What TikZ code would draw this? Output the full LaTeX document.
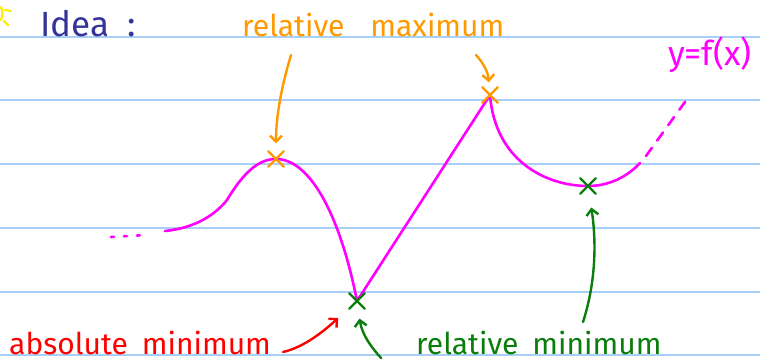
\documentclass[tikz,border=0pt]{standalone}
\usepackage{fontspec}
\setmainfont{Fira Sans}
\usetikzlibrary{arrows.meta,shapes.misc}
\definecolor{ruleblue}{HTML}{A8CFF6}
\definecolor{ideablue}{HTML}{333399}
\definecolor{hmag}{HTML}{FF00FF}
\definecolor{horange}{HTML}{FF9900}
\definecolor{hgreen}{HTML}{0A7D0A}
\definecolor{hred}{HTML}{FF0000}
\definecolor{hsun}{HTML}{FFEE00}
\begin{document}
\begin{tikzpicture}[x=1pt,y=-1pt,
  ruleline/.style={ruleblue,line width=2pt},
  crv/.style={hmag,line width=2.6pt,line cap=round,line join=round},
  xmark/.style={cross out,draw,line width=2.4pt,minimum size=13pt,inner sep=0pt,line cap=round},
  arr/.style={line width=2.4pt,line cap=round,line join=round,-{Straight Barb[length=6pt,width=12pt]}},
  lbl/.style={anchor=base west,inner sep=0pt,font=\fontsize{30}{32}\selectfont}]
\useasboundingbox (0,0) rectangle (760,363);
% ruled lines
\foreach \yy in {37,100,164,228,292,355}
  \draw[ruleline] (0,\yy) -- (760,\yy);
% sun
\draw[hsun,line width=2.2pt,line cap=round] (1,7) .. controls (3,11) and (3,16) .. (1,20);
\draw[hsun,line width=2.2pt,line cap=round] (5,10) -- (11,11);
\draw[hsun,line width=2.2pt,line cap=round] (4,21) -- (8,25);
% title
\node[lbl,ideablue,font=\fontsize{35}{38}\selectfont] (idea) at (40,37) {Idea\hspace{18pt}:};
% labels
\node[lbl,horange] (rmax) at (242,37) {relative\hspace{26pt}maximum};
\node[lbl,hred] (amin) at (9,354) {absolute\hspace{14pt}minimum};
\node[lbl,hgreen] (rmin) at (416,354) {relative\hspace{14pt}minimum};
\node[lbl,hmag,font=\fontsize{34}{36}\selectfont] (fx) at (668,66) {y=f(x)};
% curve
\draw[crv,dash pattern=on 3pt off 10pt] (111,237) -- (146,235);
\draw[crv] (165,231) .. controls (195,228) and (215,215) .. (227,200)
   .. controls (245,170) and (260,159) .. (276,159)
   .. controls (310,159) and (340,215) .. (357,301)
   -- (490,95)
   .. controls (495,160) and (545,186) .. (588,186)
   .. controls (610,186) and (628,176) .. (640,163);
\draw[crv,dash pattern=on 10pt off 9pt] (646,156) -- (690,95);
% markers
\node[xmark,horange] (maxA) at (276,159) {};
\node[xmark,horange] (maxB) at (490,95) {};
\node[xmark,hgreen] (minA) at (357,301) {};
\node[xmark,hgreen] (minB) at (588,186) {};
% arrow starts
\coordinate (o1) at (291,55);
\coordinate (o2) at (476,55);
\coordinate (r1) at (283,352);
\coordinate (g1) at (381,358);
\coordinate (g2) at (583,322);
% arrows
\draw[arr,horange,shorten >=8pt] (o1) .. controls (282,85) and (276,115) .. (maxA);
\draw[arr,horange,shorten >=5pt] (o2) .. controls (484,64) and (488,72) .. (maxB);
\draw[arr,hred,shorten >=15pt] (r1) .. controls (305,347) and (325,330) .. (minA);
\draw[arr,hgreen,shorten >=10pt] (g1) .. controls (372,348) and (362,335) .. (minA);
\draw[arr,hgreen,shorten >=14pt] (g2) .. controls (595,285) and (597,245) .. (minB);
\end{tikzpicture}
\end{document}
